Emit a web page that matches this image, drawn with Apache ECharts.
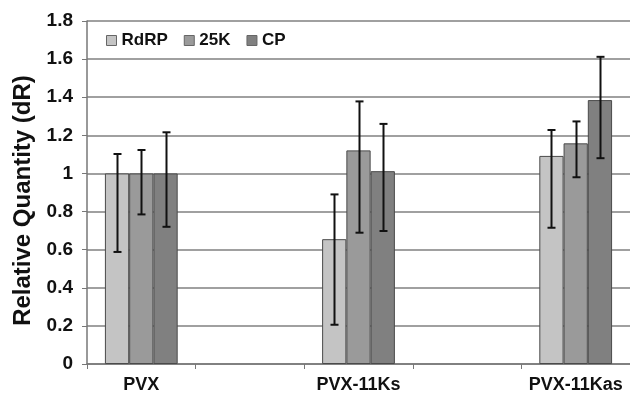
<!DOCTYPE html>
<html>
<head>
<meta charset="utf-8">
<script src="https://cdn.jsdelivr.net/npm/echarts@6/dist/echarts.min.js"></script>
<style>html,body{margin:0;padding:0;background:#fff;}#c{width:630px;height:394px;}</style>
</head>
<body>
<div id="c"></div>
<script>
var categories = ['PVX', '', 'PVX-11Ks', '', 'PVX-11Kas'];
var seriesNames = ['RdRP', '25K', 'CP'];
var rdrp = [1.0, '-', 0.655, '-', 1.092];
var k25 = [1.0, '-', 1.121, '-', 1.158];
var cp = [1.0, '-', 1.012, '-', 1.385];
var rdrpLow = [0.588, '-', 0.206, '-', 0.715];
var rdrpHigh = [1.102, '-', 0.89, '-', 1.228];
var k25Low = [0.785, '-', 0.689, '-', 0.98];
var k25High = [1.123, '-', 1.378, '-', 1.273];
var cpLow = [0.72, '-', 0.698, '-', 1.08];
var cpHigh = [1.216, '-', 1.26, '-', 1.612];
var yTicks = ['0', '0.2', '0.4', '0.6', '0.8', '1', '1.2', '1.4', '1.6', '1.8'];

var colors = ['#c4c4c4', '#9a9a9a', '#808080'];
var values = [rdrp, k25, cp];
var lows = [rdrpLow, k25Low, cpLow];
var highs = [rdrpHigh, k25High, cpHigh];
var gapPct = 0.33;
var font = '"Liberation Sans", Arial, sans-serif';

var chart = echarts.init(document.getElementById('c'));
var series = [];
seriesNames.forEach(function (n, i) {
  series.push({
    name: n, type: 'bar', data: values[i], barGap: '0%', barCategoryGap: (gapPct * 100) + '%',
    itemStyle: { color: colors[i], borderColor: '#4a4a4a', borderWidth: 1 }
  });
});
seriesNames.forEach(function (n, i) {
  var d = [];
  for (var k = 0; k < categories.length; k++) {
    if (lows[i][k] !== '-') d.push([k, lows[i][k], highs[i][k]]);
  }
  series.push({
    type: 'custom', silent: true, z: 10,
    data: d,
    renderItem: function (params, api) {
      var band = api.size([1, 0])[0];
      var bw = band * (1 - gapPct) / 3;
      var off = (i - 1) * bw;
      var lo = api.coord([api.value(0), api.value(1)]);
      var hi = api.coord([api.value(0), api.value(2)]);
      var x = Math.round(lo[0] + off) + 0.5;
      var cw = 4;
      var st = { stroke: '#111', lineWidth: 2 };
      return { type: 'group', children: [
        { type: 'line', shape: { x1: x, y1: hi[1], x2: x, y2: lo[1] }, style: st },
        { type: 'line', shape: { x1: x - cw, y1: hi[1], x2: x + cw, y2: hi[1] }, style: st },
        { type: 'line', shape: { x1: x - cw, y1: lo[1], x2: x + cw, y2: lo[1] }, style: st }
      ]};
    }
  });
});

chart.setOption({
  animation: false,
  backgroundColor: '#fff',
  grid: { left: 87, right: -2, top: 21, bottom: 29, containLabel: false },
  legend: {
    left: 101, top: 27, itemWidth: 10, itemHeight: 10, itemGap: 16, icon: 'rect',
    data: seriesNames.map(function (n, i) { return { name: n, itemStyle: { color: colors[i], borderColor: '#666', borderWidth: 1 } }; }),
    textStyle: { fontFamily: font, fontWeight: 'bold', fontSize: 17, color: '#111' }
  },
  xAxis: {
    type: 'category', data: categories,
    axisLine: { lineStyle: { color: '#777', width: 1.5 } },
    axisTick: { show: true, length: 5, lineStyle: { color: '#777' } },
    axisLabel: { interval: 0, margin: 12, fontFamily: font, fontWeight: 'bold', fontSize: 18, color: '#111' }
  },
  yAxis: {
    type: 'value', min: 0, max: 1.8, interval: 0.2,
    name: 'Relative Quantity (dR)', nameLocation: 'middle', nameGap: 52,
    nameTextStyle: { fontFamily: font, fontWeight: 'bold', fontSize: 24, color: '#111', padding: [0, 16, 0, 0] },
    axisLine: { show: true, lineStyle: { color: '#777', width: 1.5 } },
    axisTick: { show: true, length: 5, lineStyle: { color: '#777' } },
    axisLabel: { margin: 14, fontFamily: font, fontWeight: 'bold', fontSize: 19, color: '#111',
      formatter: function (v) { return yTicks[Math.round(v / 0.2)]; } },
    splitLine: { lineStyle: { color: '#808080', width: 1.5 } }
  },
  series: series
});
</script>
</body>
</html>
